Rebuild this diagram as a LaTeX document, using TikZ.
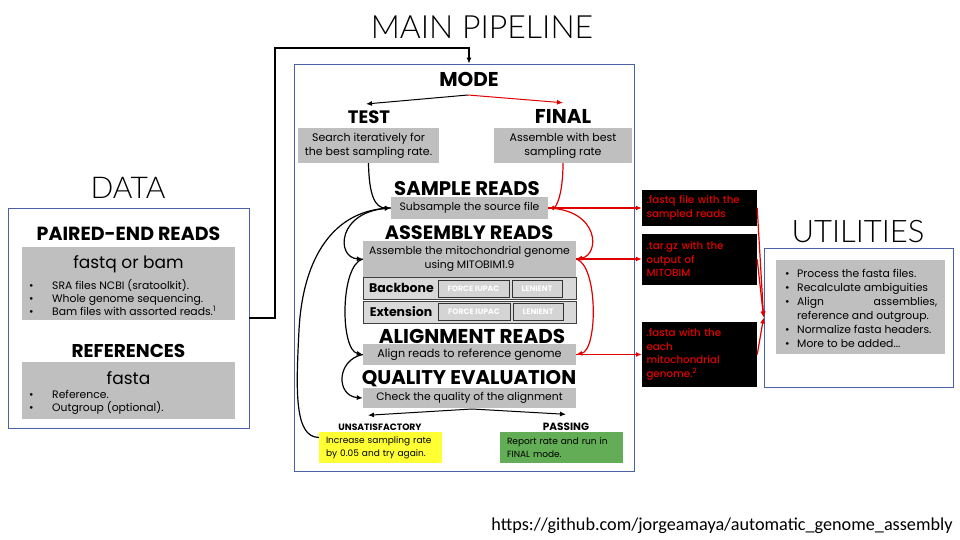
\documentclass[tikz,border=0pt]{standalone}
\usepackage{fontspec}
\setmainfont{Poppins}
\IfFontExistsTF{Lato Light}{\newfontfamily\titlefont{Lato Light}}{\newfontfamily\titlefont{Lato}}
\IfFontExistsTF{Poppins Medium}{\newfontfamily\medfont{Poppins Medium}}{\newfontfamily\medfont{Poppins}}
\newfontfamily\urlfont{Carlito}
\usetikzlibrary{arrows.meta,calc}
\definecolor{gboxc}{HTML}{BFBFBF}
\definecolor{rowg}{HTML}{D9D9D9}
\definecolor{tagg}{HTML}{D4D4D4}
\definecolor{bblue}{HTML}{4A62A8}
\definecolor{ared}{HTML}{E00000}
\definecolor{ylw}{HTML}{FFFF33}
\definecolor{grn}{HTML}{62AD55}
\newcommand\fsz[2]{\fontsize{#1}{#2}\selectfont}
\newcommand\bul{\makebox[23pt][l]{•}}
\newcommand\ubul{\makebox[12pt][l]{•}}
\begin{document}
\begin{tikzpicture}[x=1pt,y=-1pt,
  titlel/.style={font=\titlefont\fsz{#1}{#1}, inner sep=0, anchor=base},
  headl/.style={font=\bfseries\fsz{#1}{#1}, inner sep=0, anchor=base},
  gbox/.style={fill=gboxc, inner sep=0, align=center, font=\fsz{10.8}{14}},
  frame/.style={draw=bblue, line width=0.8pt, fill=white, inner sep=0},
  rowbox/.style={fill=rowg, draw=black!75, line width=0.8pt, inner sep=0, minimum width=213pt, minimum height=22pt},
  tagbox/.style={fill=tagg, draw=black!80, line width=0.7pt, inner sep=0, minimum height=17pt, text=white, font=\bfseries\fsz{7.8}{8}},
  rowlab/.style={font=\bfseries\fsz{12.5}{13}, inner sep=0},
  conn/.style={-{Latex[length=6pt,width=5pt]}, line width=1.2pt},
  rconn/.style={conn, draw=ared},
  outbox/.style={fill=black, text=ared, inner sep=0, minimum width=115pt, text width=106pt, align=left, font=\medfont\fsz{10.3}{13.5}},
  resbox/.style={inner sep=0, minimum width=123pt, minimum height=31pt, text width=109pt, align=left, font=\fsz{9}{13}},
  lst/.style={inner sep=0, align=left, anchor=west}
]
\useasboundingbox (0,0) rectangle (960,540);

% ---------------- titles
\node[titlel=32] (ttlmain) at (482,39) {MAIN PIPELINE};
\node[titlel=30] (ttldata) at (128,198) {DATA};
\node[titlel=31] (ttlutil) at (858,242) {UTILITIES};

% ---------------- DATA
\node[frame, minimum width=241pt, minimum height=220pt] (data) at (128.5,318) {};
\node[headl=19] (pe) at (128.5,240) {PAIRED-END READS};
\node[gbox, minimum width=213pt, minimum height=73pt] (g1) at (128.5,283.5) {};
\node[inner sep=0, anchor=base, font=\fsz{17}{18}] (fq) at (128.5,268) {fastq or bam};
\node[lst, font=\fsz{10.8}{12.8}] (l1) at (29,297.5) {\bul SRA files NCBI (sratoolkit).\\ \bul Whole genome sequencing.\\ \bul Bam files with assorted reads.\textsuperscript{1}};
\node[headl=18.5] (refs) at (128.5,357) {REFERENCES};
\node[gbox, minimum width=213pt, minimum height=57pt] (g2) at (128.5,390.5) {};
\node[inner sep=0, anchor=base, font=\fsz{17}{18}] (fa) at (128.5,384) {fasta};
\node[lst, font=\fsz{10.8}{12.8}] (l2) at (29,402) {\bul Reference.\\ \bul Outgroup (optional).};

% ---------------- MAIN
\node[frame, minimum width=340pt, minimum height=407pt] (main) at (464,267.5) {};
\coordinate (c1) at (275,48);
\coordinate (c2) at (469,48);
\draw[conn, line width=1.8pt] (data.east) -| (c1) -- (c2) -- (c2 |- main.north);

\node[headl=20] (mode) at (469,87) {MODE};
\coordinate (m0) at (468,95);
\node[headl=18] (testl) at (369,124) {TEST};
\node[headl=20] (finall) at (563,124) {FINAL};
\draw[conn, line width=1pt] (m0) -- ($(testl.north)+(-3,-7)$);
\draw[rconn, line width=1pt] (m0) -- ($(finall.north)+(0,-7)$);

\node[gbox, minimum width=141pt, minimum height=35pt, font=\fsz{11}{14}] (testb) at (368.5,145.5) {Search iteratively for\\the best sampling rate.};
\node[gbox, minimum width=138pt, minimum height=35pt, font=\fsz{11}{14}] (finalb) at (563,145.5) {Assemble with best\\sampling rate};

\node[headl=19.7] (sampl) at (467,195) {SAMPLE READS};
\node[gbox, minimum width=157pt, minimum height=22pt] (sampb) at (469.5,208) {Subsample the source file};

\node[headl=19.3] (asml) at (469,239) {ASSEMBLY READS};
\node[gbox, minimum width=213pt, minimum height=36pt, font=\fsz{10.8}{14}] (asmb) at (469.5,259) {Assemble the mitochondrial genome\\using MITOBIM1.9};
\node[rowbox] (bbrow) at (469.5,288) {};
\node[rowlab] (bbl) at (401.5,288) {Backbone};
\node[tagbox, minimum width=71pt] (bbf) at (473.5,288.5) {FORCE IUPAC};
\node[tagbox, minimum width=50pt] (bbn) at (537,288.5) {LENIENT};
\node[rowbox] (exrow) at (469.5,312) {};
\node[rowlab] (exl) at (401,312) {Extension};
\node[tagbox, minimum width=72pt] (exf) at (474,312) {FORCE IUPAC};
\node[tagbox, minimum width=50pt] (exn) at (538,312) {LENIENT};

\node[headl=20] (alnl) at (472,343) {ALIGNMENT READS};
\node[gbox, minimum width=213pt, minimum height=21pt, font=\fsz{11.2}{14}] (alnb) at (469.5,354.5) {Align reads to reference genome};

\node[headl=19.8] (qual) at (469,384) {QUALITY EVALUATION};
\node[gbox, minimum width=213pt, minimum height=20pt] (chkb) at (469.5,398) {Check the quality of the alignment};

\coordinate (q0) at (472,409);
\node[headl=9.2] (unsl) at (380,430) {UNSATISFACTORY};
\node[headl=10.5] (passl) at (566,430) {PASSING};
\draw[conn, line width=1pt] (q0) -- ($(unsl.north)+(-12,-8)$);
\draw[conn, line width=1pt] (q0) -- ($(passl.north)+(0,-8)$);

\node[resbox, fill=ylw] (yelb) at (380.5,447.5) {Increase sampling rate\\by 0.05 and try again.};
\node[resbox, fill=grn] (grnb) at (561.5,447.5) {Report rate and run in\\FINAL mode.};

% black curves (left)
\draw[conn] (testb.south) .. controls (369,195) and (375,208) .. (sampb.west);
\draw[conn] ($(yelb.west)+(0,-10)$) .. controls (294,437) and (296,390) .. (299,330) .. controls (303,255) and (335,212) .. (sampb.west);
\draw[conn] (sampb.west) .. controls (336,210) and (336,258) .. (asmb.west);
\draw[conn] (asmb.west) .. controls (340,265) and (340,350) .. (alnb.west);
\draw[conn] (alnb.west) .. controls (336,360) and (336,396) .. (chkb.west);

% red curves (right)
\draw[rconn] (finalb.south) .. controls (563,195) and (556,208) .. (sampb.east);
\draw[rconn] (sampb.east) .. controls (600,210) and (600,255) .. (asmb.east);
\draw[rconn] (asmb.east) .. controls (598,265) and (598,350) .. (alnb.east);

% outputs
\node[outbox, minimum height=36pt] (outa) at (699.5,208) {.fastq file with the\\sampled reads};
\node[outbox, minimum height=51pt] (outb) at (699.5,259.5) {.tar.gz with the\\output of\\MITOBIM};
\node[outbox, minimum height=65pt] (outc) at (699.5,354.5) {.fasta with the\\each\\mitochondrial\\genome.\textsuperscript{2}};
\draw[rconn] (sampb.east) -- (sampb.east -| outa.west);
\draw[rconn] (asmb.east) -- (asmb.east -| outb.west);
\draw[rconn] (alnb.east) -- (alnb.east -| outc.west);

% ---------------- UTILITIES
\node[frame, minimum width=189pt, minimum height=139pt] (util) at (858.5,317.5) {};
\node[gbox, minimum width=169pt, minimum height=94pt] (utilg) at (860.5,307) {};
\node[lst, font=\fsz{10.8}{14}] (ul) at (785,308) {\ubul Process the fasta files.\\ \ubul Recalculate ambiguities\\ \ubul\makebox[140pt][s]{Align\hfill assemblies,}\\ \hspace*{12pt}reference and outgroup.\\ \ubul Normalize fasta headers.\\ \ubul More to be added...};

\draw[rconn] (outa.east) -- (util.west);
\draw[rconn] (outb.east) -- (util.west);
\draw[rconn] (outc.east) -- (util.west);

% ---------------- URL
\node[inner sep=0, anchor=base, font=\urlfont\fsz{18.2}{20}] (url) at (722,530) {https://github.com/jorgeamaya/automatic\_genome\_assembly};
\end{tikzpicture}
\end{document}
